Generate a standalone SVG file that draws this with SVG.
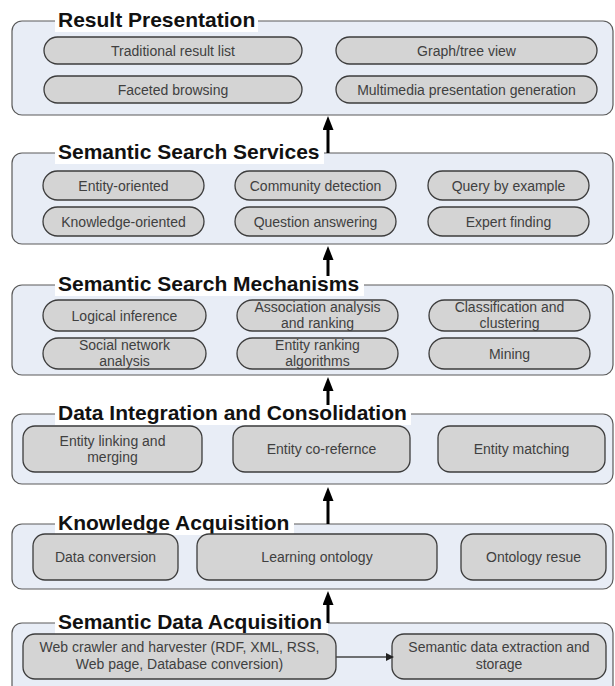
<svg xmlns="http://www.w3.org/2000/svg" width="615" height="686" viewBox="0 0 615 686">
<style>
.layer{fill:#e8edf6;stroke:#5a5a5a;stroke-width:1.2}
.tbg{fill:#ffffff}
.title{font-family:"Liberation Sans",Arial,sans-serif;font-weight:bold;font-size:21px;fill:#111}
.pill{fill:#d4d4d4;stroke:#3c3c3c;stroke-width:1.3}
.pt{font-family:"Liberation Sans",Arial,sans-serif;font-size:14px;fill:#404040;text-anchor:middle}
.up{stroke:#000;stroke-width:3;fill:none;marker-end:url(#ah)}
.side{stroke:#444;stroke-width:1.3;fill:none;marker-end:url(#sh)}
</style>
<defs>
<marker id="ah" markerUnits="userSpaceOnUse" markerWidth="14" markerHeight="11" refX="7" refY="5.5" orient="auto"><path d="M0,0 L14,5.5 L0,11 z" fill="#000"/></marker>
<marker id="sh" markerUnits="userSpaceOnUse" markerWidth="8" markerHeight="8" refX="3" refY="4" orient="auto"><path d="M0,0 L8,4 L0,8 z" fill="#222"/></marker>
</defs>
<rect width="615" height="686" fill="#fff"/>

<g id="result-presentation">
<rect class="layer" x="12" y="21" width="601" height="94" rx="10"/>
<rect class="tbg" x="55" y="6" width="203" height="26"/>
<text class="title" x="58" y="27">Result Presentation</text>
<g id="traditional-result-list"><rect class="pill" x="44" y="37" width="258" height="27" rx="13.5"/><text class="pt" x="173" y="55.5">Traditional result list</text></g>
<g id="graph-tree-view"><rect class="pill" x="336" y="37" width="261" height="27" rx="13.5"/><text class="pt" x="466.5" y="55.5">Graph/tree view</text></g>
<g id="faceted-browsing"><rect class="pill" x="44" y="76" width="258" height="27" rx="13.5"/><text class="pt" x="173" y="94.5">Faceted browsing</text></g>
<g id="multimedia-presentation"><rect class="pill" x="336" y="76" width="261" height="27" rx="13.5"/><text class="pt" x="466.5" y="94.5">Multimedia presentation generation</text></g>
</g>

<g id="semantic-search-services">
<rect class="layer" x="12" y="153" width="601" height="91" rx="10"/>
<rect class="tbg" x="55" y="138" width="269" height="26"/>
<text class="title" x="58" y="159">Semantic Search Services</text>
<g id="entity-oriented"><rect class="pill" x="43" y="171" width="161" height="29" rx="14.5"/><text class="pt" x="123.5" y="190.5">Entity-oriented</text></g>
<g id="community-detection"><rect class="pill" x="235" y="171" width="161" height="29" rx="14.5"/><text class="pt" x="315.5" y="190.5">Community detection</text></g>
<g id="query-by-example"><rect class="pill" x="428" y="171" width="161" height="29" rx="14.5"/><text class="pt" x="508.5" y="190.5">Query by example</text></g>
<g id="knowledge-oriented"><rect class="pill" x="43" y="207" width="161" height="29" rx="14.5"/><text class="pt" x="123.5" y="226.5">Knowledge-oriented</text></g>
<g id="question-answering"><rect class="pill" x="235" y="207" width="161" height="29" rx="14.5"/><text class="pt" x="315.5" y="226.5">Question answering</text></g>
<g id="expert-finding"><rect class="pill" x="428" y="207" width="161" height="29" rx="14.5"/><text class="pt" x="508.5" y="226.5">Expert finding</text></g>
</g>

<g id="semantic-search-mechanisms">
<rect class="layer" x="12" y="285" width="601" height="90" rx="10"/>
<rect class="tbg" x="55" y="270" width="309" height="26"/>
<text class="title" x="58" y="291">Semantic Search Mechanisms</text>
<g id="logical-inference"><rect class="pill" x="43" y="300" width="163" height="31" rx="15.5"/><text class="pt" x="124.5" y="320.5">Logical inference</text></g>
<g id="association-analysis"><rect class="pill" x="237" y="300" width="161" height="31" rx="15.5"/><text class="pt" x="317.5" y="312">Association analysis</text><text class="pt" x="317.5" y="328">and ranking</text></g>
<g id="classification-clustering"><rect class="pill" x="429" y="300" width="161" height="31" rx="15.5"/><text class="pt" x="509.5" y="312">Classification and</text><text class="pt" x="509.5" y="328">clustering</text></g>
<g id="social-network-analysis"><rect class="pill" x="43" y="338" width="163" height="31" rx="15.5"/><text class="pt" x="124.5" y="350">Social network</text><text class="pt" x="124.5" y="366">analysis</text></g>
<g id="entity-ranking"><rect class="pill" x="237" y="338" width="161" height="31" rx="15.5"/><text class="pt" x="317.5" y="350">Entity ranking</text><text class="pt" x="317.5" y="366">algorithms</text></g>
<g id="mining"><rect class="pill" x="429" y="338" width="161" height="31" rx="15.5"/><text class="pt" x="509.5" y="358.5">Mining</text></g>
</g>

<g id="data-integration">
<rect class="layer" x="12" y="414" width="601" height="70" rx="10"/>
<rect class="tbg" x="55" y="399" width="356" height="26"/>
<text class="title" x="58" y="420">Data Integration and Consolidation</text>
<g id="entity-linking"><rect class="pill" x="23" y="426" width="179" height="46" rx="12"/><text class="pt" x="112.5" y="446">Entity linking and</text><text class="pt" x="112.5" y="462">merging</text></g>
<g id="entity-coreference"><rect class="pill" x="233" y="426" width="177" height="46" rx="12"/><text class="pt" x="321.5" y="454">Entity co-refernce</text></g>
<g id="entity-matching"><rect class="pill" x="438" y="426" width="167" height="46" rx="12"/><text class="pt" x="521.5" y="454">Entity matching</text></g>
</g>

<g id="knowledge-acquisition">
<rect class="layer" x="12" y="524" width="601" height="65" rx="10"/>
<rect class="tbg" x="55" y="509" width="239" height="26"/>
<text class="title" x="58" y="530">Knowledge Acquisition</text>
<g id="data-conversion"><rect class="pill" x="33" y="534" width="145" height="46" rx="12"/><text class="pt" x="105.5" y="562">Data conversion</text></g>
<g id="learning-ontology"><rect class="pill" x="197" y="534" width="240" height="46" rx="12"/><text class="pt" x="317" y="562">Learning ontology</text></g>
<g id="ontology-reuse"><rect class="pill" x="461" y="534" width="145" height="46" rx="12"/><text class="pt" x="533.5" y="562">Ontology resue</text></g>
</g>

<g id="semantic-data-acquisition">
<rect class="layer" x="12" y="623" width="601" height="72" rx="10"/>
<rect class="tbg" x="55" y="608" width="273" height="26"/>
<text class="title" x="58" y="629">Semantic Data Acquisition</text>
<g id="web-crawler"><rect class="pill" x="23" y="634" width="313" height="45" rx="12"/><text class="pt" x="179.5" y="652">Web crawler and harvester (RDF, XML, RSS,</text><text class="pt" x="179.5" y="669">Web page, Database conversion)</text></g>
<g id="semantic-extraction"><rect class="pill" x="392" y="634" width="214" height="45" rx="12"/><text class="pt" x="499" y="652">Semantic data extraction and</text><text class="pt" x="499" y="669">storage</text></g>
</g>

<g id="connectors">
<line class="up" x1="328" y1="153" x2="328" y2="123"/>
<line class="up" x1="328" y1="276" x2="328" y2="253"/>
<line class="up" x1="328" y1="405" x2="328" y2="384"/>
<line class="up" x1="328" y1="524" x2="328" y2="494"/>
<line class="up" x1="328" y1="623" x2="328" y2="598"/>
<line class="side" x1="336" y1="657" x2="389" y2="657"/>
</g>
</svg>
